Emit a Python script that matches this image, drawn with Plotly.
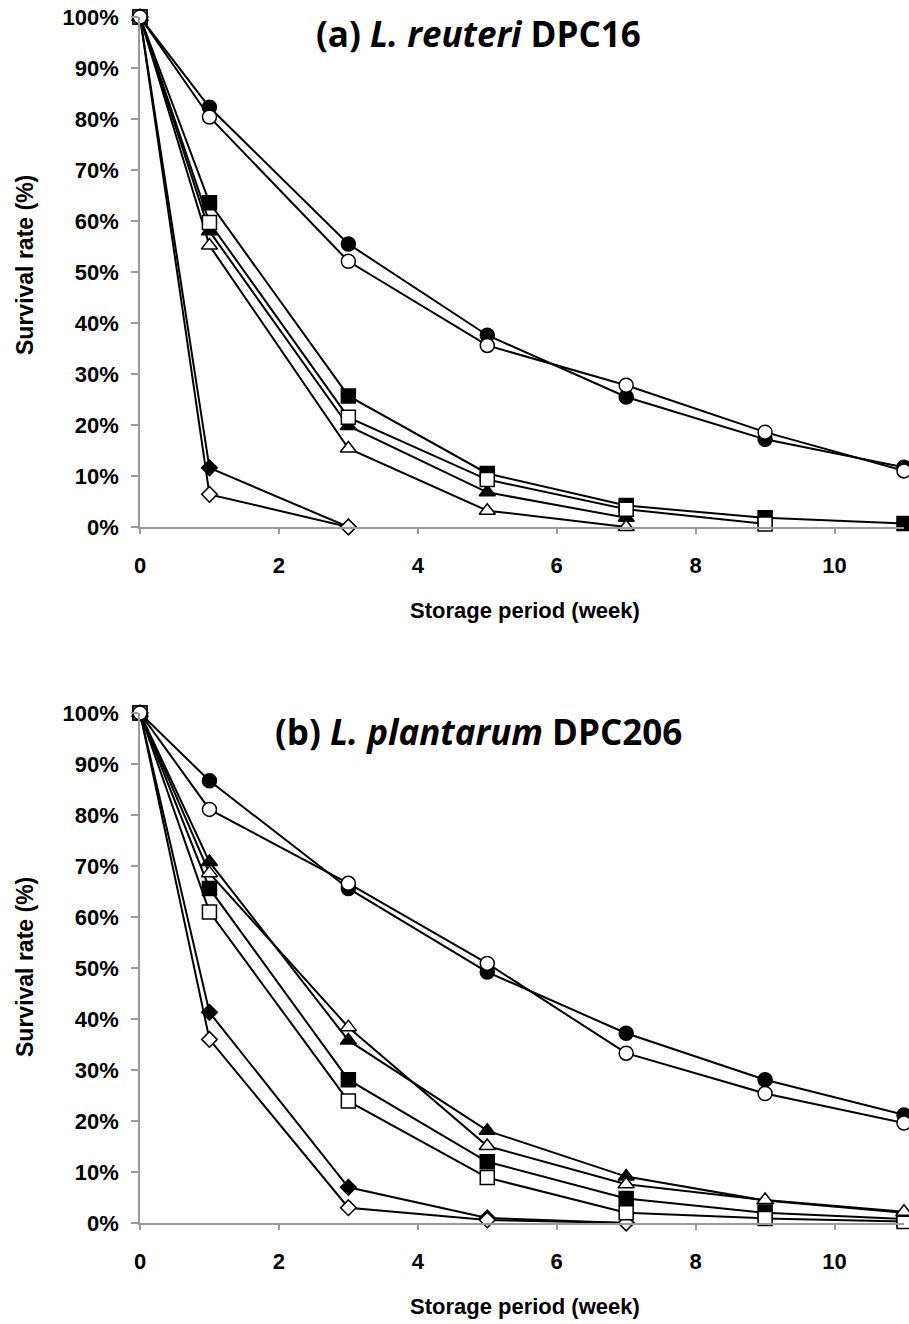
import plotly.graph_objects as go

# Storage time points (weeks)
weeks = [0, 1, 3, 5, 7, 9, 11]

# (a) L. reuteri DPC16 - survival rate (%)
a_circle_filled = [100, 82.3, 55.5, 37.6, 25.5, 17.2, 11.7]
a_circle_open = [100, 80.4, 52.1, 35.6, 27.8, 18.6, 11.0]
a_square_filled = [100, 63.6, 25.7, 10.5, 4.2, 1.8, 0.7]
a_square_open = [100, 59.7, 21.5, 9.3, 3.5, 0.6]
a_triangle_filled = [100, 58.0, 19.8, 6.8, 1.8]
a_triangle_open = [100, 55.2, 15.4, 3.2, 0.0]
a_diamond_filled = [100, 11.6, 0.0]
a_diamond_open = [100, 6.4, 0.0]

# (b) L. plantarum DPC206 - survival rate (%)
b_circle_filled = [100, 86.7, 65.6, 49.2, 37.2, 28.1, 21.2]
b_circle_open = [100, 81.1, 66.6, 50.9, 33.3, 25.4, 19.6]
b_triangle_filled = [100, 70.8, 35.8, 18.1, 9.1, 4.4, 2.0]
b_triangle_open = [100, 68.6, 38.4, 15.1, 7.6, 4.5, 2.2]
b_square_filled = [100, 65.6, 28.1, 12.0, 4.8, 2.0, 0.8]
b_square_open = [100, 61.0, 23.9, 8.9, 2.0, 0.9, 0.3]
b_diamond_filled = [100, 41.3, 7.0, 1.0, 0.0]
b_diamond_open = [100, 36.0, 3.0, 0.6, 0.0]

x_ticks = [0, 2, 4, 6, 8, 10]
y_ticks = [0, 10, 20, 30, 40, 50, 60, 70, 80, 90, 100]
y_ticktext = ["0%", "10%", "20%", "30%", "40%", "50%", "60%", "70%", "80%", "90%", "100%"]

W, H = 909, 1324
ML, MR, MT, MB = 140, 5, 17, 101
PANEL_H = 510
plot_h = H - MT - MB


def py(ypix):
    return (H - MB - ypix) / plot_h


def px(xpix):
    return (xpix - ML) / (W - ML - MR)


STYLES = {
    "diamond": dict(symbol="diamond", size=12),
    "triangle": dict(symbol="triangle-up", size=14),
    "square": dict(symbol="square", size=14),
    "circle": dict(symbol="circle", size=14),
}

fig = go.Figure()


def add_series(values, shape, filled, xa, ya):
    st = STYLES[shape]
    fig.add_trace(go.Scatter(
        x=weeks[:len(values)], y=values, xaxis=xa, yaxis=ya,
        mode="lines+markers", cliponaxis=False, showlegend=False,
        line=dict(color="black", width=2),
        marker=dict(symbol=st["symbol"], size=st["size"],
                    color="black" if filled else "white",
                    line=dict(color="black", width=1.5)),
    ))


panel_a = [
    (a_diamond_filled, "diamond", True), (a_diamond_open, "diamond", False),
    (a_triangle_filled, "triangle", True), (a_triangle_open, "triangle", False),
    (a_square_filled, "square", True), (a_square_open, "square", False),
    (a_circle_filled, "circle", True), (a_circle_open, "circle", False),
]
panel_b = [
    (b_diamond_filled, "diamond", True), (b_diamond_open, "diamond", False),
    (b_square_filled, "square", True), (b_square_open, "square", False),
    (b_triangle_filled, "triangle", True), (b_triangle_open, "triangle", False),
    (b_circle_filled, "circle", True), (b_circle_open, "circle", False),
]
for vals, shape, filled in panel_a:
    add_series(vals, shape, filled, "x", "y")
for vals, shape, filled in panel_b:
    add_series(vals, shape, filled, "x2", "y2")

tick_font = dict(family="Liberation Sans, Arial", size=22, color="black", weight="bold")
axis_common = dict(showline=True, linecolor="#9a9a9a", linewidth=1.5, ticks="outside",
                   tickcolor="#9a9a9a", tickwidth=1.5, showgrid=False, zeroline=False,
                   tickfont=tick_font)

xaxis_cfg = dict(axis_common, range=[0, 11], tickmode="array", tickvals=x_ticks,
                 ticklen=5, ticklabelstandoff=13)
yaxis_cfg = dict(axis_common, range=[0, 100], tickmode="array", tickvals=y_ticks,
                 ticktext=y_ticktext, ticklen=7, ticklabelstandoff=8)

top_lo = py(MT + PANEL_H)
bot_hi = py(H - MB - PANEL_H)

fig.update_layout(
    width=W, height=H,
    margin=dict(l=ML, r=MR, t=MT, b=MB),
    paper_bgcolor="white", plot_bgcolor="white",
    xaxis=dict(xaxis_cfg, domain=[0, 1], anchor="y"),
    yaxis=dict(yaxis_cfg, domain=[top_lo, 1], anchor="x"),
    xaxis2=dict(xaxis_cfg, domain=[0, 1], anchor="y2"),
    yaxis2=dict(yaxis_cfg, domain=[0, bot_hi], anchor="x2"),
)

title_font = dict(family="Open Sans", size=35, color="black", weight="bold")
xlabel_font = dict(family="Liberation Sans, Arial", size=22, color="black", weight="bold")
ylabel_font = dict(family="Liberation Sans, Arial", size=23, color="black", weight="bold")

annots = [
    dict(text="(a) <i>L. reuteri</i> DPC16", x=px(478), y=py(34), font=title_font),
    dict(text="(b) <i>L. plantarum</i> DPC206", x=px(478), y=py(731), font=title_font),
    dict(text="Storage period (week)", x=px(525), y=py(610), font=xlabel_font),
    dict(text="Storage period (week)", x=px(525), y=py(1306), font=xlabel_font),
    dict(text="Survival rate (%)", x=px(25), y=py(265), font=ylabel_font, textangle=-90),
    dict(text="Survival rate (%)", x=px(25), y=py(967), font=ylabel_font, textangle=-90),
]
for a in annots:
    fig.add_annotation(xref="paper", yref="paper", showarrow=False,
                       xanchor="center", yanchor="middle", **a)

fig.write_html("out.html")
